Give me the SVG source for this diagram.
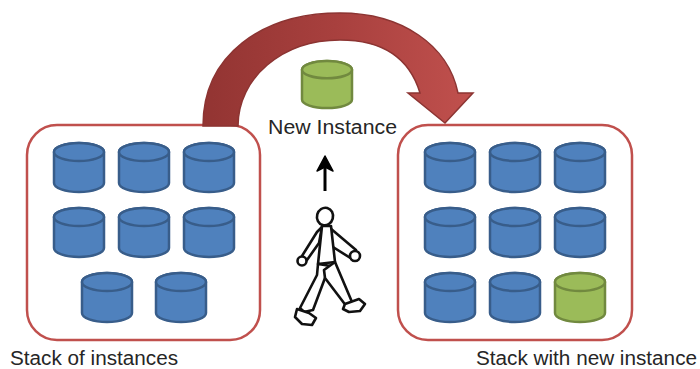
<svg xmlns="http://www.w3.org/2000/svg" xmlns:xlink="http://www.w3.org/1999/xlink" width="700" height="369" viewBox="0 0 700 369">
  <style>
    .frame { fill: #ffffff; stroke: #C0504D; stroke-width: 2.5; }
    .label { font-family: "Liberation Sans", Arial, sans-serif; font-size: 20px; fill: #262626; }
    .blue { fill: #4F81BD; stroke: #385D8A; stroke-width: 2.5; }
    .green { fill: #9BBB59; stroke: #71893F; stroke-width: 2.5; }
    .ink { fill: #ffffff; stroke: #111111; stroke-width: 2.6; stroke-linejoin: round; stroke-linecap: round; }
  </style>
  <defs>
    <!-- database cylinder, 50 x 49; colours inherited from the using group -->
    <g id="cyl">
      <path d="M0 9 A25 9 0 0 1 50 9 V40 A25 9 0 0 1 0 40 Z"/>
      <ellipse cx="25" cy="9" rx="25" ry="9"/>
    </g>
    <linearGradient id="arcFill" x1="200" y1="0" x2="470" y2="0" gradientUnits="userSpaceOnUse">
      <stop offset="0" stop-color="#923432"/>
      <stop offset="0.5" stop-color="#A8403E"/>
      <stop offset="1" stop-color="#C0504D"/>
    </linearGradient>
  </defs>

  <!-- left stack -->
  <g id="stack-left">
    <rect class="frame" x="27" y="125" width="233" height="215" rx="30"/>
    <g class="blue">
      <use xlink:href="#cyl" x="54" y="143"/>
      <use xlink:href="#cyl" x="119" y="143"/>
      <use xlink:href="#cyl" x="184" y="143"/>
      <use xlink:href="#cyl" x="54" y="208"/>
      <use xlink:href="#cyl" x="119" y="208"/>
      <use xlink:href="#cyl" x="184" y="208"/>
      <use xlink:href="#cyl" x="82" y="273"/>
      <use xlink:href="#cyl" x="156" y="273"/>
    </g>
    <text class="label" x="10" y="365" textLength="168" lengthAdjust="spacingAndGlyphs">Stack of instances</text>
  </g>

  <!-- right stack -->
  <g id="stack-right">
    <rect class="frame" x="398" y="125" width="234" height="215" rx="30"/>
    <g class="blue">
      <use xlink:href="#cyl" x="425" y="143"/>
      <use xlink:href="#cyl" x="490" y="143"/>
      <use xlink:href="#cyl" x="555" y="143"/>
      <use xlink:href="#cyl" x="425" y="208"/>
      <use xlink:href="#cyl" x="490" y="208"/>
      <use xlink:href="#cyl" x="555" y="208"/>
      <use xlink:href="#cyl" x="425" y="273"/>
      <use xlink:href="#cyl" x="490" y="273"/>
    </g>
    <g class="green">
      <use xlink:href="#cyl" x="555" y="273"/>
    </g>
    <text class="label" x="476" y="365" textLength="221" lengthAdjust="spacingAndGlyphs">Stack with new instance</text>
  </g>

  <!-- new instance -->
  <g id="new-instance">
    <g class="green">
      <use xlink:href="#cyl" transform="translate(302 61) scale(1 0.96)"/>
    </g>
    <text class="label" x="268" y="134" textLength="129" lengthAdjust="spacingAndGlyphs">New Instance</text>
  </g>

  <!-- walking figure -->
  <g id="walker">
    <!-- legs -->
    <path class="ink" d="M318 264 L331 266 L325 278 L313 310 L304 312 L300 308 L317 275 Z"/>
    <path class="ink" d="M297 309 L309 313 L316 318 L312 325 L302 324 L295 317 Z"/>
    <path class="ink" d="M324 270 L335 262 L352 302 L347 307 L325 278 Z"/>
    <path class="ink" d="M345 304 L359 299 L365 304 L360 311 L349 312 L343 309 Z"/>
    <!-- arms -->
    <path class="ink" d="M330 228 L356 250 L352 259 L325 242 Z"/>
    <circle class="ink" cx="355" cy="256" r="5"/>
    <path class="ink" d="M322 227 L317 232 L302 256 L307 260 L319 243 Z"/>
    <circle class="ink" cx="302" cy="261" r="4.5"/>
    <!-- torso -->
    <path class="ink" d="M322 226 L331 226 L335 262 L318 264 Z"/>
    <!-- head -->
    <ellipse class="ink" cx="325" cy="216.5" rx="8" ry="8.8" transform="rotate(15 325 216.5)"/>
  </g>

  <g id="connectors">
    <!-- curved transfer arrow between stacks -->
    <path d="M203 126 C203 55 262 13 340 13 C402 13 448 45 458 93 L473 93 L445 123 L408 93 L420 93 C410 60 385 40 340 40 C282 40 238 78 238 126 Z" fill="url(#arcFill)" stroke="#8C3432" stroke-width="1.5" stroke-linejoin="miter"/>
    <!-- small up arrow above the walker -->
    <line x1="325" y1="191" x2="325" y2="160" stroke="#000000" stroke-width="3"/>
    <path d="M317 171 L325 156 L333 171 L325 167 Z" fill="#000000" stroke="#000000" stroke-width="1.5" stroke-linejoin="round"/>
  </g>
</svg>
